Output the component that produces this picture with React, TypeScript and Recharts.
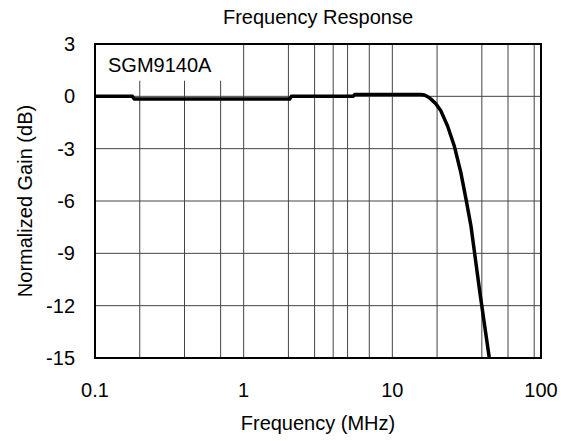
import React from "react";
import { LineChart, Line, XAxis, YAxis, CartesianGrid, ReferenceArea, Label } from "recharts";

// frequency in MHz, normalized gain in dB
const freqs = [
  0.1, 0.178, 0.184, 2.04, 2.1, 5.45, 5.6, 15.5, 16.4, 17.3, 18.2, 19.6, 21.2, 23.5, 26.1, 28.9, 31.3, 33.8, 38.8, 44.9,
];
const gains = [
  0.0, 0.0, -0.15, -0.15, 0.0, 0.0, 0.1, 0.1, 0.08, -0.02, -0.16, -0.42, -0.83, -1.69, -2.84, -4.37, -5.89, -7.43, -11.24, -15.0,
];

const xTicks = [0.1, 1, 10, 100];
const yTicks = [-15, -12, -9, -6, -3, 0, 3];
const gridFreqs = [
  0.2, 0.3, 0.4, 0.5, 0.6, 0.7, 0.8, 0.9, 1, 2, 3, 4, 5, 6, 7, 8, 9, 10, 20, 30, 40, 50, 60, 70, 80, 90,
];
const gridGains = [-12, -9, -6, -3, 0];

const data = freqs.map((f, i) => ({ f, g: gains[i] }));

const FONT = "'Liberation Sans', Arial, sans-serif";

export default function App() {
  return (
    <div style={{ position: "relative", width: 561, height: 441, fontFamily: FONT, background: "#fff" }}>
      <style>{"body{margin:0}"}</style>
      <div
        style={{
          position: "absolute",
          top: 5,
          left: 95,
          width: 446,
          textAlign: "center",
          fontSize: 20,
          lineHeight: "24px",
          color: "#000",
        }}
      >
        Frequency Response
      </div>
      <LineChart width={561} height={441} data={data} margin={{ top: 44, right: 20, bottom: 0, left: 0 }}>
        <CartesianGrid
          stroke="#444"
          strokeWidth={1}
          verticalValues={gridFreqs}
          horizontalValues={gridGains}
        />
        <XAxis
          dataKey="f"
          type="number"
          scale="log"
          domain={[0.1, 100]}
          allowDataOverflow
          ticks={xTicks}
          tickFormatter={(v) => String(v)}
          tickLine={false}
          axisLine={false}
          tickSize={0}
          tickMargin={25}
          height={83}
          tick={{ fill: "#000", fontSize: 20, fontFamily: FONT }}
        >
          <Label
            content={(p: any) => {
              const vb = p.viewBox || {};
              return (
                <text x={vb.x + vb.width / 2} y={vb.y + 72} textAnchor="middle" fontSize={20} fontFamily={FONT} fill="#000">
                  Frequency (MHz)
                </text>
              );
            }}
          />
        </XAxis>
        <YAxis
          type="number"
          domain={[-15, 3]}
          allowDataOverflow
          ticks={yTicks}
          tickLine={false}
          axisLine={false}
          tickSize={0}
          tickMargin={20}
          width={95}
          tick={{ fill: "#000", fontSize: 20, fontFamily: FONT }}
        >
          <Label
            content={(p: any) => {
              const vb = p.viewBox || {};
              const cx = vb.x + 32;
              const cy = vb.y + vb.height / 2;
              return (
                <text
                  x={cx}
                  y={cy}
                  transform={`rotate(-90, ${cx}, ${cy})`}
                  textAnchor="middle"
                  fontSize={20}
                  fontFamily={FONT}
                  fill="#000"
                >
                  Normalized Gain (dB)
                </text>
              );
            }}
          />
        </YAxis>
        <ReferenceArea x1={0.1} x2={0.78} y1={0.9} y2={3} fill="#fff" fillOpacity={1} stroke="none" ifOverflow="visible">
          <Label value="SGM9140A" position="insideLeft" offset={13} dy={3} fill="#000" fontSize={20} fontFamily={FONT} />
        </ReferenceArea>
        <Line
          dataKey="g"
          type="linear"
          stroke="#000"
          strokeWidth={3.5}
          dot={false}
          activeDot={false}
          isAnimationActive={false}
        />
        <ReferenceArea x1={0.1} x2={100} y1={-15} y2={3} fill="none" stroke="#000" strokeWidth={2} ifOverflow="visible" />
      </LineChart>
    </div>
  );
}
